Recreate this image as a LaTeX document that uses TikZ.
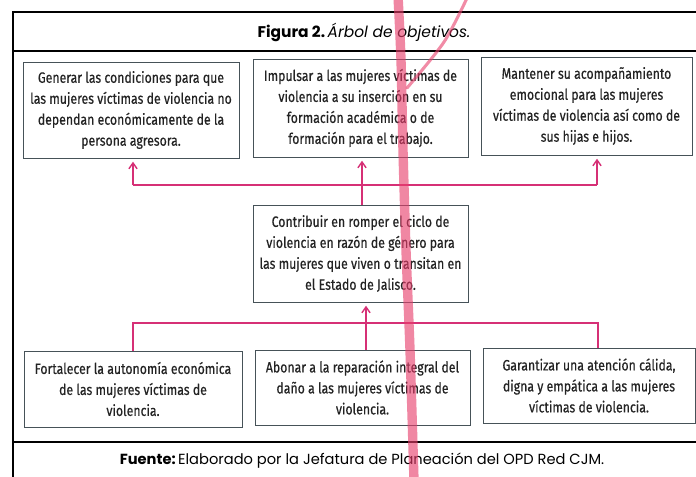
\documentclass[tikz,border=0pt]{standalone}
\usepackage{fontspec}
\usetikzlibrary{arrows.meta}
\newfontfamily\boxfont{Fira Sans}[FakeStretch=0.82, FakeBold=0.4]
\newfontfamily\popfont{Poppins}
\definecolor{linkpink}{RGB}{214,48,118}
\definecolor{penred}{RGB}{232,62,108}
\definecolor{boxline}{RGB}{70,82,88}
\definecolor{txt}{RGB}{35,35,35}
\tikzset{
	objbox/.style={draw=boxline, line width=0.7pt, fill=white, align=center, inner sep=0pt,
		text=txt, font=\boxfont\fontsize{12.8}{17.9}\selectfont},
	link/.style={draw=linkpink, line width=1.6pt},
	uparrow/.style={link, line width=1.2pt, -{Straight Barb[length=5pt,width=7pt,line width=1.2pt]}},
	frame/.style={line width=1.1pt, black},
}
\begin{document}
\begin{tikzpicture}[x=0.03cm, y=-0.03cm]
	\useasboundingbox (0,0) rectangle (696,477);
	\fill[white] (0,0) rectangle (696,477);

	%frame
	\draw[frame] (696,12) -- (13,12) -- (13,477);
	\draw[frame] (13,51) -- (696,51);
	\draw[frame] (13,442) -- (696,442);
	\node (title) at (364,32) {\popfont\fontsize{13.2}{15}\selectfont\textbf{Figura 2.}\,\textit{Árbol de objetivos.}};
	\node (source) at (362,461) {\popfont\fontsize{12.5}{14}\selectfont\textbf{Fuente:}\,Elaborado por la Jefatura de Planeación del OPD Red CJM.};

	%top row
	\node[objbox, minimum width=6.48cm, minimum height=2.88cm] (gen) at (131,110)
		{Generar las condiciones para que\\las mujeres víctimas de violencia no\\dependan económicamente de la\\persona agresora.};
	\node[objbox, minimum width=6.45cm, minimum height=2.94cm] (imp) at (360.5,108)
		{Impulsar a las mujeres víctimas de\\violencia a su inserción en su\\formación académica o de\\formación para el trabajo.};
	\node[objbox, minimum width=6.33cm, minimum height=2.94cm] (man) at (586.5,106)
		{Mantener su acompañamiento\\emocional para las mujeres\\víctimas de violencia así como de\\sus hijas e hijos.};

	%middle
	\node[objbox, minimum width=6.45cm, minimum height=2.91cm] (con) at (360.5,253.5)
		{Contribuir en romper el ciclo de\\violencia en razón de género para\\las mujeres que viven o transitan en\\el Estado de Jalisco.};

	%bottom row
	\node[objbox, minimum width=6.54cm, minimum height=2.28cm] (for) at (133,389)
		{Fortalecer la autonomía económica\\de las mujeres víctimas de\\violencia.};
	\node[objbox, minimum width=6.45cm, minimum height=2.25cm] (abo) at (362.5,387.5)
		{Abonar a la reparación integral del\\daño a las mujeres víctimas de\\violencia.};
	\node[objbox, minimum width=6.36cm, minimum height=2.25cm] (gar) at (589,385.5)
		{Garantizar una atención cálida,\\digna y empática a las mujeres\\víctimas de violencia.};

	%upper connectors
	\coordinate (ul) at (133,185);
	\coordinate (ur) at (597,185);
	\draw[link] (ul) -- (ur);
	\draw[uparrow] (ul) -- ([yshift=-0.1cm]ul |- gen.south);
	\draw[uparrow] (ur) -- ([yshift=-0.1cm]ur |- man.south);
	\draw[uparrow] (con.north -| 362,0) -- ([yshift=-0.1cm]imp.south -| 362,0);

	%lower connectors
	\coordinate (ll) at (133,323);
	\coordinate (lr) at (598,323);
	\draw[link] (ll |- for.north) -- (ll) -- (lr) -- (lr |- gar.north);
	\draw[uparrow] (abo.north -| 366,0) -- ([yshift=-0.1cm]con.south -| 366,0);

	%pen mark
	\draw[penred, opacity=0.62, line width=8pt, line cap=round] plot[smooth] coordinates {(398,-4) (401,60) (403,150) (406,250) (410,350) (414,481)};
	\draw[penred, opacity=0.6, line width=2.6pt, line cap=round] plot[smooth] coordinates {(468,-4) (444,42) (407,88)};
\end{tikzpicture}
\end{document}
